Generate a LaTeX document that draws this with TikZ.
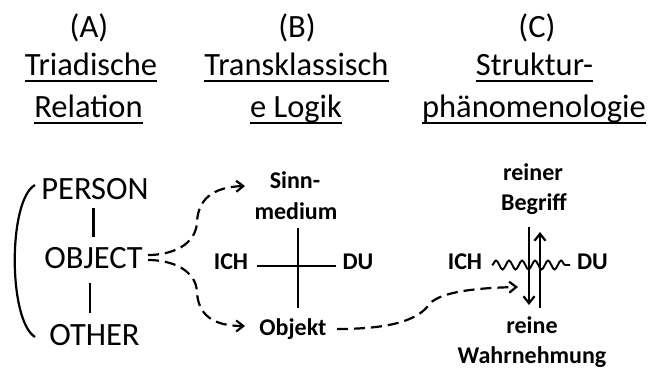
\documentclass[tikz,border=0pt]{standalone}
\usepackage{fontspec}
\setmainfont{Carlito}
\usetikzlibrary{arrows.meta,decorations.pathmorphing}
\begin{document}
\begin{tikzpicture}[x=1pt,y=-1pt,
  big/.style={font=\fontsize{32.5}{32.5}\selectfont, inner sep=0pt, anchor=base},
  lab/.style={font=\fontsize{24}{24}\selectfont\bfseries, inner sep=0pt, anchor=base},
  uline/.style={line width=2.3pt},
  bar/.style={line width=2.2pt},
  tip/.style={-{Straight Barb[length=7pt,width=11pt,line width=2.2pt]}},
  dasharrow/.style={line width=2.2pt, dash pattern=on 11pt off 6pt, tip},
  solidarrow/.style={line width=2.2pt, tip},
  wave/.style={line width=1.9pt, decorate, decoration={snake, segment length=13pt, amplitude=4.5pt}}
]
\useasboundingbox (0,0) rectangle (661,370);

% headers
\node[big] (hA)  at (89,37)  {(A)};
\node[big] (hA1) at (91,75)  {Triadische};
\node[big] (hA2) at (88.5,117) {Relation};
\node[big] (hB)  at (297,37) {(B)};
\node[big] (hB1) at (296.5,75) {Transklassisch};
\node[big] (hB2) at (296,117) {e Logik};
\node[big] (hC)  at (537,37) {(C)};
\node[big] (hC1) at (534.5,75) {Struktur-};
\node[big] (hC2) at (534,117) {phänomenologie};
\foreach \n in {hA1,hA2,hB1,hB2,hC1,hC2}
  \draw[uline] ([yshift=-6pt]\n.base west) -- ([yshift=-6pt]\n.base east);

% triad
\node[big] (P)  at (95,199)   {PERSON};
\node[big] (O)  at (93.5,268) {OBJECT};
\node[big] (Ot) at (94.5,345) {OTHER};
\draw[bar] ([xshift=-1.5pt,yshift=-9pt]P.base) -- ([xshift=-1.5pt,yshift=-38pt]P.base);
\draw[bar] ([xshift=-3.5pt,yshift=-15pt]O.base) -- ([xshift=-3.5pt,yshift=-45pt]O.base);
\draw[bar] (35,185) .. controls (8,200) and (8,320) .. (35,337);

% dashed arrows from OBJECT
\coordinate (s1) at (148,255);
\coordinate (s2) at (148,260);
\coordinate (t1) at (245,186);
\coordinate (t2) at (245,326);
\draw[dasharrow] (s1) .. controls (172,255) and (196,245) .. (197,222)
                      .. controls (198,200) and (212,187) .. (t1);
\draw[dasharrow] (s2) .. controls (172,260) and (196,270) .. (197,292)
                      .. controls (198,314) and (212,326) .. (t2);

% (B) cross
\node[lab] (Sinn) at (295,188) {Sinn-};
\node[lab] (Med)  at (296,219) {medium};
\node[lab] (Ib)   at (231,269) {ICH};
\node[lab] (Db)   at (358,269) {DU};
\node[lab] (Obj)  at (293,335) {Objekt};
\coordinate (Xb) at (298,266);
\draw[bar, shorten <=9pt, shorten >=6pt] ([yshift=3pt]Ib.base east) -- ([yshift=3pt]Db.base west);
\draw[bar] ([yshift=38pt]Xb) -- ([yshift=-42pt]Xb);

% dashed arrow Objekt -> C
\coordinate (s3) at (337,329);
\coordinate (t3) at (518,287);
\draw[dasharrow] (s3) .. controls (385,329) and (415,322) .. (428,306)
                      .. controls (436,293) and (470,288) .. (t3);

% (C)
\node[lab] (Rb)  at (533,180) {reiner};
\node[lab] (Bg)  at (534,210) {Begriff};
\node[lab] (Ic)  at (465,269) {ICH};
\node[lab] (Dc)  at (592.5,269) {DU};
\node[lab] (Re)  at (532,333) {reine};
\node[lab] (Wn)  at (532,363) {Wahrnehmung};
\coordinate (w1) at (492,265);
\coordinate (w2) at (570,265);
\draw[wave] (w1) -- (w2);
\coordinate (d1) at (529,227);
\coordinate (d2) at (529,305);
\coordinate (u1) at (540,308);
\coordinate (u2) at (540,232);
\draw[solidarrow] (d1) -- (d2);
\draw[solidarrow] (u1) -- (u2);
\end{tikzpicture}
\end{document}
